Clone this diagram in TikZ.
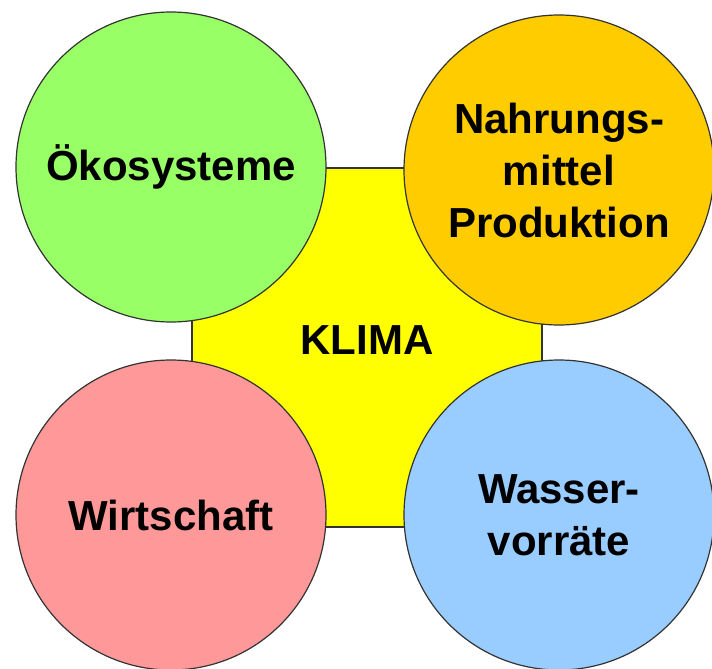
\documentclass[tikz,border=0pt]{standalone}
\usepackage{fontspec}
\setmainfont{Liberation Sans}
\definecolor{oekogruen}{HTML}{99FF66}
\definecolor{nahrungorange}{HTML}{FFCC00}
\definecolor{klimagelb}{HTML}{FFFF00}
\definecolor{wirtschaftrot}{HTML}{FF9999}
\definecolor{wasserblau}{HTML}{99CCFF}

\begin{document}
\begin{tikzpicture}[x=0.5pt,y=-0.5pt]
        \tikzstyle{every node}=[draw=black!80,line width=0.6pt,inner sep=0pt,align=center,font=\fontsize{21}{26}\selectfont\bfseries]
        \tikzstyle{thema}=[circle,minimum size=155pt]
        \useasboundingbox (0,0) rectangle (712,669);
        \node[fill=klimagelb,minimum width=175pt,minimum height=179.5pt,text depth=7pt] (klima) at (367,347.5) {KLIMA};
        \node[thema,fill=oekogruen] (oeko) at (171,167) {Ökosysteme};
        \node[thema,fill=nahrungorange] (nahrung) at (559,170) {Nahrungs-\\mittel\\Produktion};
        \node[thema,fill=wirtschaftrot] (wirtschaft) at (171,515) {Wirtschaft};
        \node[thema,fill=wasserblau] (wasser) at (559,515) {Wasser-\\vorräte};
    \end{tikzpicture}
\end{document}
